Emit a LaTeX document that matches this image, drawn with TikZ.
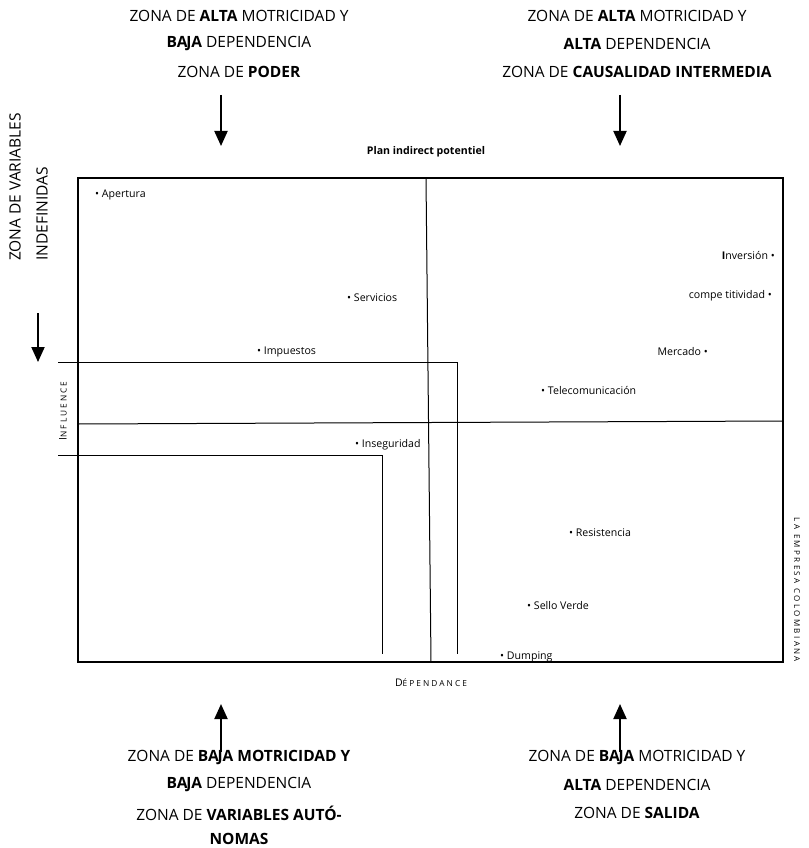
\documentclass[tikz,border=0pt]{standalone}
\usepackage{fontspec}
\setmainfont{Open Sans}
\usetikzlibrary{arrows.meta}
\newcommand{\baja}{\textbf{BA\kern-1.2ptJA}}
\begin{document}
\begin{tikzpicture}[x=1pt,y=-1pt,
  zone/.style={font=\fontsize{15.5}{17}\selectfont, align=center, inner sep=0pt},
  item/.style={font=\fontsize{10.6}{12}\selectfont, inner sep=0pt},
  axislabel/.style={font=\fontsize{10.5}{12}\selectfont\addfontfeatures{LetterSpace=25}, inner sep=0pt},
  frame/.style={line width=1.3pt},
  rule/.style={line width=1pt},
  bigarrow/.style={line width=2pt, -{Triangle[length=15pt,width=13pt]}}]
\useasboundingbox (0,0) rectangle (808,848);

% frame of the plan
\coordinate (tl) at (78,178);
\coordinate (br) at (783,662);
\draw[frame] (tl) rectangle (br);

% quadrant dividers
\coordinate (vtop) at (426,178);
\coordinate (vbot) at (431,662);
\draw[rule] (vtop) -- (vbot);
\coordinate (hleft) at (78,424);
\coordinate (hright) at (783,421);
\draw[rule] (hleft) -- (hright);

% nested zone outlines
\coordinate (a1) at (58,362);
\coordinate (a2) at (457,362);
\coordinate (a3) at (457,654);
\draw[rule] (a1) -- (a2) -- (a3);
\coordinate (b1) at (58,455);
\coordinate (b2) at (382,455);
\coordinate (b3) at (382,654);
\draw[rule] (b1) -- (b2) -- (b3);

% title and axes
\node[font=\fontsize{10.6}{12}\selectfont\bfseries, inner sep=0pt] (title) at (426,152) {Plan indirect potentiel};
\node[axislabel, rotate=90] (infl) at (63,411) {I\fontsize{8.3}{9}\selectfont NFLUENCE};
\node[axislabel] (dep) at (431,683) {D\fontsize{8.3}{9}\selectfont ÉPENDANCE};
\node[axislabel, font=\fontsize{8}{9}\selectfont\addfontfeatures{LetterSpace=30}, rotate=-90] (emp) at (797,590) {LA EMPRESA COLOMBIANA};

% variables
\node[item, anchor=west] (apertura) at (95,195) {• Apertura};
\node[item, anchor=west] (servicios) at (347,298) {• Servicios};
\node[item, anchor=west] (impuestos) at (257,352) {• Impuestos};
\node[item, anchor=west] (inseguridad) at (355,445) {• Inseguridad};
\node[item, anchor=west] (telecom) at (541,390) {• Telecomunicación};
\node[item, anchor=east] (inversion) at (775,255) {\textbf{I}nversión •};
\node[item, anchor=east] (compet) at (772,296) {compe titividad •};
\node[item, anchor=east] (mercado) at (708,352) {Mercado •};
\node[item, anchor=west] (resist) at (569,533) {• Resistencia};
\node[item, anchor=west] (sello) at (527,606) {• Sello Verde};
\node[item, anchor=west] (dumping) at (500,657) {• Dumping};

% zone captions, top
\node[zone] (ztl1) at (239,16) {ZONA DE \textbf{ALTA} MOTRICIDAD Y};
\node[zone] (ztl2) at (239,44) {\baja{} DEPENDENCIA};
\node[zone] (ztl3) at (239,72) {ZONA DE \textbf{PODER}};
\node[zone] (ztr1) at (637,16) {ZONA DE \textbf{ALTA} MOTRICIDAD Y};
\node[zone] (ztr2) at (637,44) {\textbf{ALTA} DEPENDENCIA};
\node[zone] (ztr3) at (637,72) {ZONA DE \textbf{CAUSALIDAD INTERMEDIA}};

% zone captions, bottom
\node[zone] (zbl1) at (239,757) {ZONA DE \baja{} \textbf{MOTRICIDAD Y}};
\node[zone] (zbl2) at (239,785) {\baja{} DEPENDENCIA};
\node[zone] (zbl3) at (239,813) {ZONA DE \textbf{VARIABLES AUTÓ-}};
\node[zone] (zbl4) at (239,839) {\textbf{NOMAS}};
\node[zone] (zbr1) at (637,757) {ZONA DE \baja{} MOTRICIDAD Y};
\node[zone] (zbr2) at (637,785) {\textbf{ALTA} DEPENDENCIA};
\node[zone] (zbr3) at (637,813) {ZONA DE \textbf{SALIDA}};

% zone caption, left side
\node[zone, rotate=90, anchor=west] (zl1) at (15,261) {ZONA DE VARIABLES};
\node[zone, rotate=90, anchor=west] (zl2) at (42,261) {INDEFINIDAS};

% pointers
\coordinate (p1s) at (221,95);  \coordinate (p1e) at (221,146);
\coordinate (p2s) at (620,95);  \coordinate (p2e) at (620,146);
\coordinate (p3s) at (221,752); \coordinate (p3e) at (221,704);
\coordinate (p4s) at (620,752); \coordinate (p4e) at (620,704);
\coordinate (p5s) at (38,313);  \coordinate (p5e) at (38,362);
\draw[bigarrow] (p1s) -- (p1e);
\draw[bigarrow] (p2s) -- (p2e);
\draw[bigarrow] (p3s) -- (p3e);
\draw[bigarrow] (p4s) -- (p4e);
\draw[bigarrow] (p5s) -- (p5e);
\end{tikzpicture}
\end{document}
